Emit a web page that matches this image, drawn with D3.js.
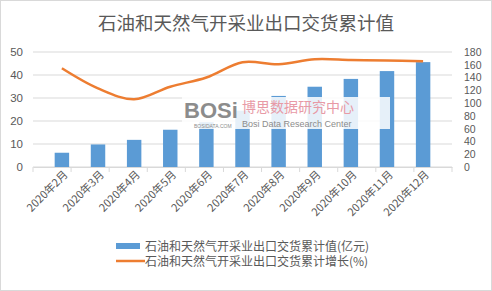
<!DOCTYPE html>
<html>
<head>
<meta charset="utf-8">
<script src="https://cdn.jsdelivr.net/npm/d3@7"></script>
<style>
  body { margin: 0; background: #fff; }
  text { font-family: "Noto Sans CJK SC", "Noto Sans", sans-serif; fill: #595959; }
  .num text, text.num { font-family: "Liberation Sans", "DejaVu Sans", sans-serif; }
</style>
</head>
<body>
<div id="chart"></div>
<script>
// data (Jun/Jul bars are partly hidden by the watermark)
const months = ["2020年2月", "2020年3月", "2020年4月", "2020年5月", "2020年6月", "2020年7月",
    "2020年8月", "2020年9月", "2020年10月", "2020年11月", "2020年12月"];
const values = [6.2, 9.8, 11.8, 16.2, 19.5, 24.5, 30.9, 34.9, 38.3, 41.7, 45.6];
const growth = [154.5, 123, 106, 125.7, 140, 164, 161, 168.6, 167.5, 166.7, 165.4];
const leftTicks = [0, 10, 20, 30, 40, 50];
const rightTicks = [0, 20, 40, 60, 80, 100, 120, 140, 160, 180];

const title = "石油和天然气开采业出口交货累计值";
const barName = "石油和天然气开采业出口交货累计值(亿元)";
const lineName = "石油和天然气开采业出口交货累计增长(%)";

const W = 492, H = 291;
const margin = {top: 52, right: 40, bottom: 124, left: 33};
const width = W - margin.left - margin.right;
const height = H - margin.top - margin.bottom;

const root = d3.select("#chart").append("svg")
    .attr("width", W)
    .attr("height", H);

root.append("rect")
    .attr("x", 0.5).attr("y", 0.5)
    .attr("width", W - 1).attr("height", H - 1)
    .attr("fill", "#fff")
    .attr("stroke", "#d9d9d9");

root.append("text")
    .attr("x", W / 2)
    .attr("y", 30)
    .attr("text-anchor", "middle")
    .attr("font-size", 18.5)
    .text(title);

const svg = root.append("g")
    .attr("transform", `translate(${margin.left},${margin.top})`);

const x = d3.scaleBand().domain(months).range([0, width]).padding(0.6);
const xStep = d3.scaleBand().domain(months).range([0, width]);
const yL = d3.scaleLinear().domain([0, 50]).range([height, 0]);
const yR = d3.scaleLinear().domain([0, 180]).range([height, 0]);

// gridlines
svg.selectAll(".grid")
    .data(leftTicks)
    .join("line")
    .attr("x1", 0).attr("x2", width)
    .attr("y1", d => yL(d)).attr("y2", d => yL(d))
    .attr("stroke", "#d9d9d9");

// left axis
svg.append("g")
    .attr("class", "num")
    .call(d3.axisLeft(yL).tickValues(leftTicks).tickSize(0).tickPadding(10))
    .call(g => g.select(".domain").remove())
    .selectAll("text").attr("font-size", 11.5).attr("fill", "#595959");

// right axis (labels are packed tight in the original)
svg.append("g")
    .attr("class", "num")
    .attr("transform", `translate(${width},0)`)
    .call(d3.axisRight(yR).tickValues(rightTicks).tickSize(0).tickPadding(12))
    .call(g => g.select(".domain").remove())
    .selectAll("text").attr("font-size", 10.5).attr("fill", "#595959");

// bars
svg.selectAll(".bar")
    .data(values)
    .join("rect")
    .attr("class", "bar")
    .attr("x", (d, i) => x(months[i]))
    .attr("width", x.bandwidth())
    .attr("y", d => yL(d))
    .attr("height", d => height - yL(d))
    .attr("fill", "#5b9bd5");

// x axis
const xAxis = svg.append("g")
    .attr("transform", `translate(0,${height})`)
    .call(d3.axisBottom(x).tickSize(0).tickPadding(4));
xAxis.select(".domain").attr("stroke", "#d9d9d9");
xAxis.selectAll("text")
    .attr("font-size", 11)
    .attr("fill", "#595959")
    .attr("text-anchor", "end")
    .attr("dx", "-0.1em")
    .attr("dy", "0.6em")
    .attr("transform", "rotate(-45)");
// tick marks between categories
svg.selectAll(".xtick")
    .data(months.concat(["end"]))
    .join("line")
    .attr("x1", (d, i) => i * xStep.step())
    .attr("x2", (d, i) => i * xStep.step())
    .attr("y1", height).attr("y2", height + 5)
    .attr("stroke", "#d9d9d9");

// line
const line = d3.line()
    .x((d, i) => x(months[i]) + x.bandwidth() / 2)
    .y(d => yR(d))
    .curve(d3.curveCatmullRom);

svg.append("path")
    .datum(growth)
    .attr("fill", "none")
    .attr("stroke", "#ed7d31")
    .attr("stroke-width", 2.5)
    .attr("d", line);

// watermark
const wm = root.append("g").attr("transform", "translate(182,97)");
wm.append("rect").attr("x", 0).attr("y", 0).attr("width", 208).attr("height", 32)
    .attr("fill", "#fff").attr("opacity", 0.85);
wm.append("text").attr("class", "num").attr("x", 2).attr("y", 21).attr("font-size", 22).attr("font-weight", "bold")
    .style("fill", "#8c8c8c").text("BOSi");
wm.append("text").attr("class", "num").attr("x", 12).attr("y", 31).attr("font-size", 5)
    .style("fill", "#8c8c8c").text("BOSIDATA.COM");
wm.append("text").attr("x", 60).attr("y", 15).attr("font-size", 14)
    .style("fill", "#e89aa6").text("博思数据研究中心");
wm.append("text").attr("class", "num").attr("x", 60).attr("y", 30).attr("font-size", 9)
    .style("fill", "#8c8c8c").text("Bosi Data Research Center");

// legend
const legend = root.append("g").attr("transform", "translate(116,0)");
legend.append("rect")
    .attr("x", 0).attr("y", 243).attr("width", 24).attr("height", 6)
    .attr("fill", "#5b9bd5");
legend.append("text")
    .attr("x", 29).attr("y", 250.5).attr("font-size", 12)
    .text(barName);
legend.append("line")
    .attr("x1", 0).attr("x2", 29).attr("y1", 261).attr("y2", 261)
    .attr("stroke", "#ed7d31").attr("stroke-width", 2.5);
legend.append("text")
    .attr("x", 29).attr("y", 266).attr("font-size", 12)
    .text(lineName);
</script>
</body>
</html>
